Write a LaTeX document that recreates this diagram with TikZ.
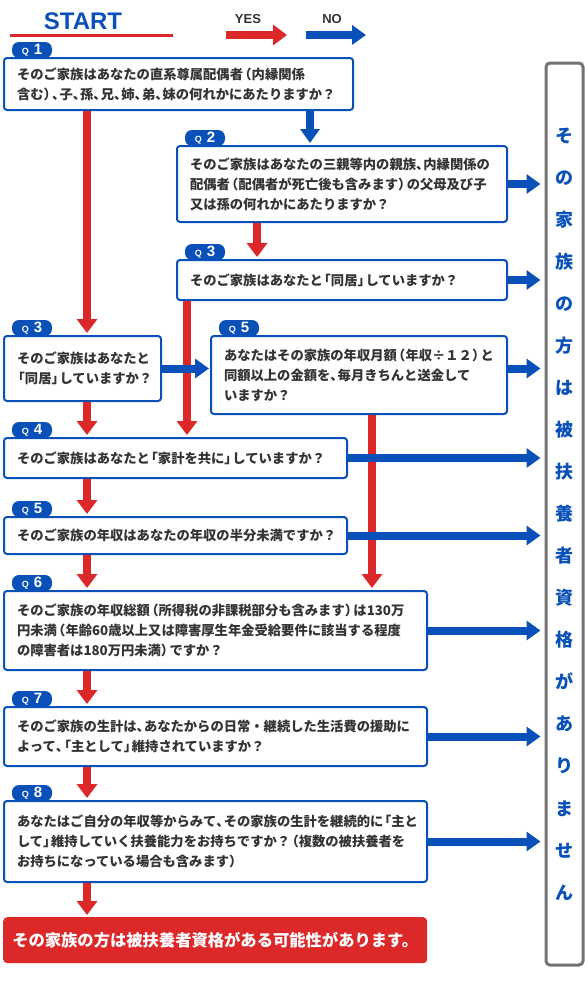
\documentclass[tikz,border=0pt]{standalone}
\usepackage{fontspec}
\setmainfont{Noto Sans CJK JP}
\newfontfamily\latinfont{Liberation Sans}
\usetikzlibrary{arrows.meta,calc,positioning}
\definecolor{qblue}{RGB}{10,80,185}
\definecolor{qred}{RGB}{220,40,40}
\definecolor{qtext}{RGB}{51,51,51}
\definecolor{qgray}{RGB}{115,115,115}
\newcommand{\tc}{\makebox[0.55em][l]{、}}
\newcommand{\kl}{\makebox[0.6em][r]{「}}
\newcommand{\kr}{\makebox[0.6em][l]{」}}
\newcommand{\pl}{\makebox[0.65em][r]{（}}
\newcommand{\pr}{\makebox[0.65em][l]{）}}
\newcommand{\qtag}[1]{{\fontsize{9}{9}\selectfont Q}\hspace{5pt}{\fontsize{15}{15}\selectfont #1}}

\begin{document}
\begin{tikzpicture}[x=1pt,y=-1pt,
qbox/.style={draw=qblue,line width=2pt,rounded corners=3pt,fill=white,
  anchor=north west,inner xsep=13pt,inner ysep=0pt,align=left,text=qtext,
  font=\bfseries\fontsize{13.3}{20}\selectfont},
qtagbox/.style={fill=qblue,rounded corners=7pt,text=white,inner sep=0pt,
  minimum width=40pt,minimum height=16pt,font=\latinfont\bfseries},
yes/.style={draw=qred,line width=8pt,-{Triangle[width=20pt,length=14pt]},shorten >=2pt},
no/.style={draw=qblue,line width=8pt,-{Triangle[width=19pt,length=14pt]}},
legend/.style={text=qtext,font=\latinfont\bfseries\fontsize{13}{13}\selectfont}]
\useasboundingbox (0,0) rectangle (585,983);

% legend
\node[text=qblue,font=\latinfont\bfseries\fontsize{24}{24}\selectfont] (start) at (83,21) {START};
\draw[qred,line width=3pt] (10,35) -- (173,35);
\node[legend] (yesl) at (248,19) {YES};
\node[legend] (nol) at (332,19) {NO};
\coordinate (ya) at (226,35);
\coordinate (yb) at (287,35);
\coordinate (na) at (306,35);
\coordinate (nb) at (366,35);

% question boxes
\node[qbox,text width=323pt,minimum height=52pt] (Q1) at (3,57)
  {そのご家族はあなたの直系尊属配偶者\pl 内縁関係\\含む\pr\tc 子\tc 孫\tc 兄\tc 姉\tc 弟\tc 妹の何れかにあたりますか？};
\node[qbox,text width=304pt,minimum height=76pt] (Q2) at (176,145)
  {そのご家族はあなたの三親等内の親族\tc 内縁関係の\\配偶者\pl 配偶者が死亡後も含みます\pr の父母及び子\\又は孫の何れかにあたりますか？};
\node[qbox,text width=304pt,minimum height=40pt] (Q3b) at (176,259)
  {そのご家族はあなたと\kl 同居\kr していますか？};
\node[qbox,text width=131pt,minimum height=65pt] (Q3a) at (3,335)
  {そのご家族はあなたと\\\kl 同居\kr していますか？};
\node[qbox,text width=270pt,minimum height=78pt] (Q5a) at (210,335)
  {あなたはその家族の年収月額\pl 年収÷１２\pr と\\同額以上の金額を\tc 毎月きちんと送金して\\いますか？};
\node[qbox,text width=317pt,minimum height=40pt] (Q4) at (3,437)
  {そのご家族はあなたと\kl 家計を共に\kr していますか？};
\node[qbox,text width=317pt,minimum height=37pt] (Q5b) at (3,516)
  {そのご家族の年収はあなたの年収の半分未満ですか？};
\node[qbox,text width=397pt,minimum height=79pt] (Q6) at (3,590)
  {そのご家族の年収総額\pl 所得税の非課税部分も含みます\pr は130万\\円未満\pl 年齢60歳以上又は障害厚生年金受給要件に該当する程度\\の障害者は180万円未満\pr ですか？};
\node[qbox,text width=397pt,minimum height=59pt] (Q7) at (3,706)
  {そのご家族の生計は\tc あなたからの日常・継続した生活費の援助に\\よって\tc\kl 主として\kr 維持されていますか？};
\node[qbox,text width=397pt,minimum height=81pt] (Q8) at (3,800)
  {あなたはご自分の年収等からみて\tc その家族の生計を継続的に\kl 主と\\して\kr 維持していく扶養能力をお持ちですか？\pl 複数の被扶養者を\\お持ちになっている場合も含みます\pr};
\node[fill=qred,rounded corners=4pt,anchor=north west,minimum width=424pt,minimum height=46pt,
  inner sep=0pt,text=white,font=\bfseries\fontsize{16.3}{16.3}\selectfont] (R) at (3,917)
  {その家族の方は被扶養者資格がある可能性があります。};

% right panel
\node[draw=qgray,line width=3pt,rounded corners=4pt,fill=white,minimum width=37pt,
  minimum height=902pt,inner sep=0pt,align=center,text=qblue,
  font=\bfseries\fontsize{18}{42.05}\selectfont] (P) at (564.5,514)
  {そ\\の\\家\\族\\の\\方\\は\\被\\扶\\養\\者\\資\\格\\が\\あ\\り\\ま\\せ\\ん};

% tags
\node[qtagbox] (T1) at ($(Q1.north west)+(29,-7)$) {\qtag{1}};
\node[qtagbox] (T2) at ($(Q2.north west)+(29,-7)$) {\qtag{2}};
\node[qtagbox] (T3b) at ($(Q3b.north west)+(29,-7)$) {\qtag{3}};
\node[qtagbox] (T3a) at ($(Q3a.north west)+(29,-7)$) {\qtag{3}};
\node[qtagbox] (T5a) at ($(Q5a.north west)+(29,-7)$) {\qtag{5}};
\node[qtagbox] (T4) at ($(Q4.north west)+(29,-7)$) {\qtag{4}};
\node[qtagbox] (T5b) at ($(Q5b.north west)+(29,-7)$) {\qtag{5}};
\node[qtagbox] (T6) at ($(Q6.north west)+(29,-7)$) {\qtag{6}};
\node[qtagbox] (T7) at ($(Q7.north west)+(29,-7)$) {\qtag{7}};
\node[qtagbox] (T8) at ($(Q8.north west)+(29,-7)$) {\qtag{8}};

% columns of the arrows
\coordinate (c1) at (87,0);
\coordinate (c2) at (257,0);
\coordinate (c3) at (187,0);
\coordinate (c4) at (372,0);
\coordinate (c5) at (310,0);

% yes
\draw[yes,shorten >=0pt] (ya) -- (yb);
\draw[yes] (Q1.south -| c1) -- (Q3a.north -| c1);
\draw[yes] (Q2.south -| c2) -- (Q3b.north -| c2);
\draw[yes] (Q3b.south -| c3) -- (Q4.north -| c3);
\draw[yes] (Q5a.south -| c4) -- (Q6.north -| c4);
\draw[yes] (Q3a.south -| c1) -- (Q4.north -| c1);
\draw[yes] (Q4.south -| c1) -- (Q5b.north -| c1);
\draw[yes] (Q5b.south -| c1) -- (Q6.north -| c1);
\draw[yes] (Q6.south -| c1) -- (Q7.north -| c1);
\draw[yes] (Q7.south -| c1) -- (Q8.north -| c1);
\draw[yes] (Q8.south -| c1) -- (R.north -| c1);

% no
\draw[no] (na) -- (nb);
\draw[no,shorten >=2pt] (Q1.south -| c5) -- (Q2.north -| c5);
\draw[no,shorten >=1pt] (Q3a.east) -- (Q3a.east -| Q5a.west);
\draw[no,shorten >=4pt] (Q2.east) -- (Q2.east -| P.west);
\draw[no,shorten >=4pt] (Q3b.east) -- (Q3b.east -| P.west);
\draw[no,shorten >=4pt] (Q5a.east |- Q3a.east) -- (Q3a.east -| P.west);
\draw[no,shorten >=4pt] (Q4.east) -- (Q4.east -| P.west);
\draw[no,shorten >=4pt] (Q5b.east) -- (Q5b.east -| P.west);
\draw[no,shorten >=4pt] (Q6.east) -- (Q6.east -| P.west);
\draw[no,shorten >=4pt] (Q7.east) -- (Q7.east -| P.west);
\draw[no,shorten >=4pt] (Q8.east) -- (Q8.east -| P.west);
\end{tikzpicture}
\end{document}
